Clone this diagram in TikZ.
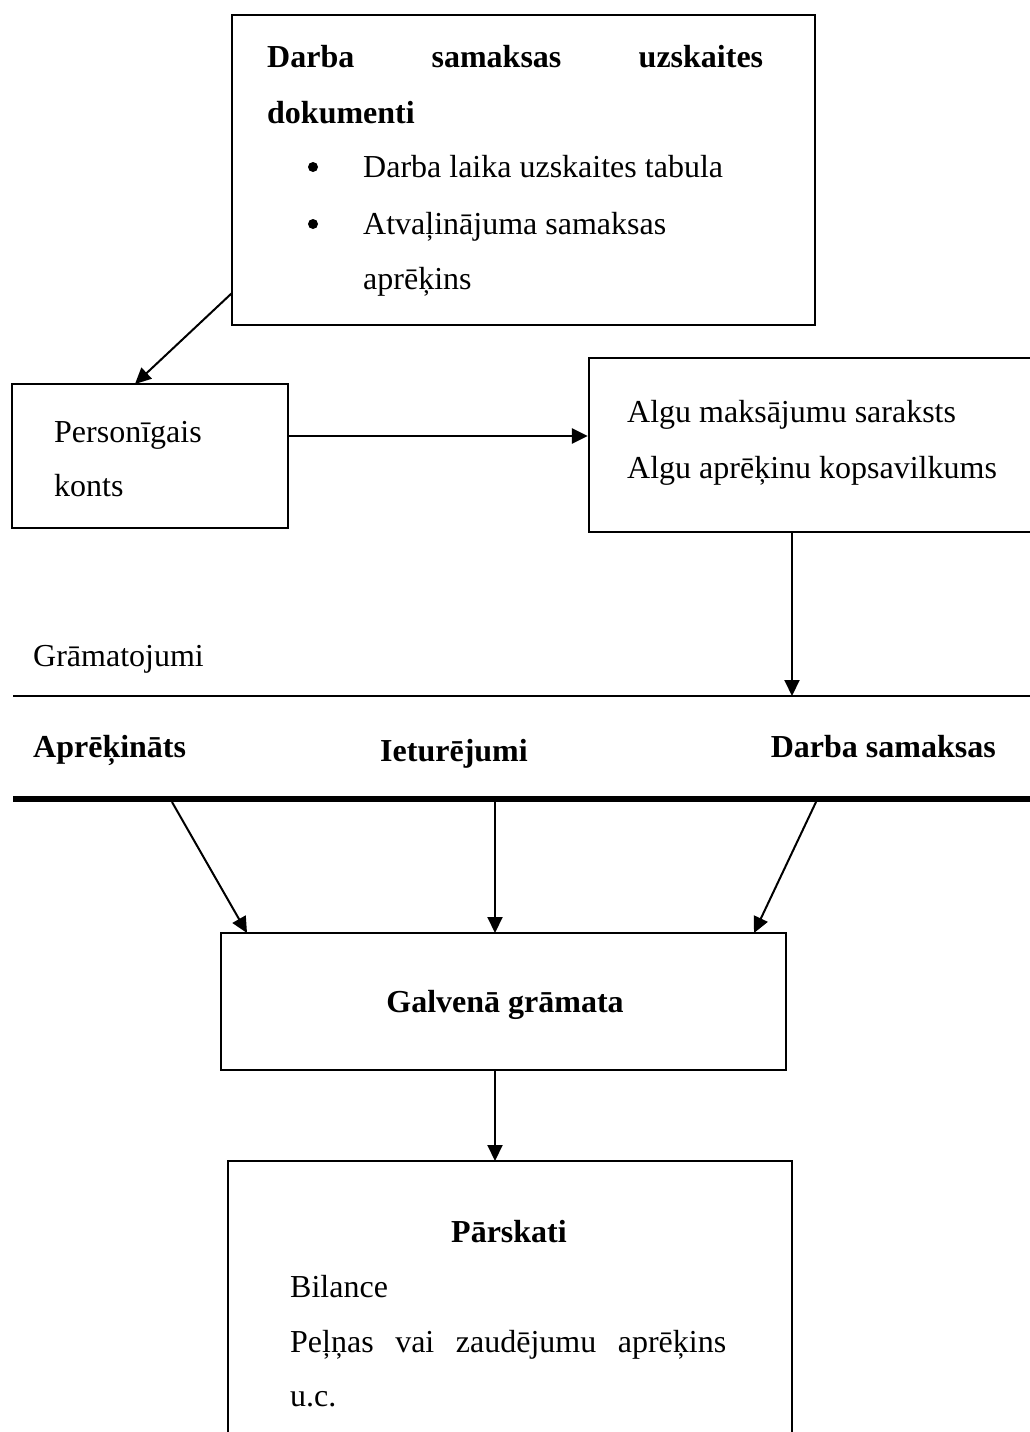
\documentclass[tikz,border=0pt]{standalone}
\usepackage{fontspec}
\setmainfont{Liberation Serif}
\usetikzlibrary{arrows.meta}
\begin{document}
\begin{tikzpicture}[x=1pt,y=-1pt,
  box/.style={draw,line width=2.4pt,inner sep=0pt},
  txt/.style={anchor=base west,inner sep=0pt,font=\fontsize{32}{38}\selectfont},
  btxt/.style={anchor=base west,inner sep=0pt,font=\fontsize{32}{38}\selectfont\bfseries},
  ctxt/.style={anchor=base,inner sep=0pt,font=\fontsize{32}{38}\selectfont\bfseries},
  arr/.style={line width=2pt,-{Triangle[length=16pt,width=15pt]}},
  bul/.style={circle,fill=black,inner sep=0pt,minimum size=10pt}]
\useasboundingbox (0,0) rectangle (1030,1432);
% boxes
\node[box,minimum width=583pt,minimum height=310pt] (top) at (523.5,170) {};
\node[box,minimum width=276pt,minimum height=144pt] (pers) at (150,456) {};
\node[box,minimum width=443pt,minimum height=174pt] (alg) at (810.5,445) {};
\node[box,minimum width=565pt,minimum height=137pt] (gal) at (503.5,1001.5) {};
\node[box,minimum width=564pt,minimum height=279pt] (par) at (510,1300.5) {};
% top box text
\node[btxt] (t1) at (267,67) {\makebox[496pt][s]{Darba\hfill samaksas\hfill uzskaites}};
\node[btxt] (t2) at (267,123) {dokumenti};
\node[bul] (b1) at (313,167) {};
\node[txt] (t3) at (363,177) {Darba laika uzskaites tabula};
\node[bul] (b2) at (313,224) {};
\node[txt] (t4) at (363,234) {Atvaļinājuma samaksas};
\node[txt] (t5) at (363,289) {aprēķins};
% personal
\node[txt] (p1) at (54,442) {Personīgais};
\node[txt] (p2) at (54,496) {konts};
% algu
\node[txt] (a1) at (627,422) {Algu maksājumu saraksts};
\node[txt] (a2) at (627,478) {Algu aprēķinu kopsavilkums};
% gramatojumi
\node[txt] (g) at (33,666) {Grāmatojumi};
\coordinate (l1a) at (13,696);
\coordinate (l1b) at (1030,696);
\draw[line width=2.2pt] (l1a) -- (l1b);
\node[btxt] (c1) at (33,757) {Aprēķināts};
\node[ctxt] (c2) at (454,761) {Ieturējumi};
\node[btxt,anchor=base east] (c3) at (996,757) {Darba samaksas};
\coordinate (l2a) at (13,799);
\coordinate (l2b) at (1030,799);
\draw[line width=6pt] (l2a) -- (l2b);
% galvena
\node[ctxt] (gt) at (505,1012) {Galvenā grāmata};
% parskati
\node[ctxt] (pt) at (509,1242) {Pārskati};
\node[txt] (r1) at (290,1297) {Bilance};
\node[txt] (r2) at (290,1352) {\makebox[436pt][s]{Peļņas\hfill vai\hfill zaudējumu\hfill aprēķins}};
\node[txt] (r3) at (290,1406) {u.c.};
% arrows
\coordinate (s1) at (232,293);
\coordinate (e1) at (135,384);
\draw[arr] (s1) -- (e1);
\coordinate (s2) at (288,436);
\draw[arr,line width=2.5pt] (s2) -- (s2 -| alg.west);
\coordinate (s3) at (792,532);
\coordinate (e3) at (792,696);
\draw[arr] (s3) -- (e3);
\coordinate (s4) at (172,802);
\coordinate (e4) at (247,933);
\draw[arr] (s4) -- (e4);
\coordinate (s5) at (495,802);
\coordinate (e5) at (495,933);
\draw[arr] (s5) -- (e5);
\coordinate (s6) at (816,802);
\coordinate (e6) at (754,933);
\draw[arr] (s6) -- (e6);
\coordinate (e7) at (495,1161);
\draw[arr] (gal.south -| e7) -- (e7);
\end{tikzpicture}
\end{document}
